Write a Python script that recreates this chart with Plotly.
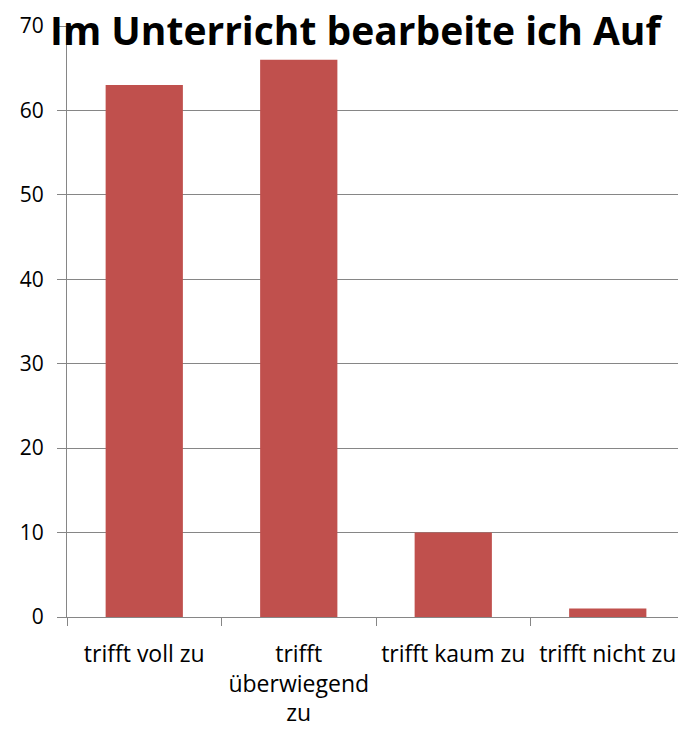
import plotly.graph_objects as go

categories = ["trifft voll zu", "trifft<br>überwiegend<br>zu", "trifft kaum zu", "trifft nicht zu"]
values = [63, 66, 10, 1]
title_text = "Im Unterricht bearbeite ich Auf"
y_ticks = [0, 10, 20, 30, 40, 50, 60, 70]

fig = go.Figure()
fig.add_trace(go.Bar(x=categories, y=values, marker=dict(color="#C0504D", line=dict(width=0)), width=0.5))

axis_color = "#868686"
fig.update_layout(
    width=678, height=726,
    margin=dict(l=59, r=1, t=18, b=117, autoexpand=False),
    plot_bgcolor="white", paper_bgcolor="white",
    showlegend=False,
    font=dict(family="Open Sans, Liberation Sans, sans-serif", size=21, color="black"),
    xaxis=dict(showline=True, linecolor=axis_color, linewidth=1, ticks="outside", tickson="boundaries",
               ticklen=8, tickcolor=axis_color, showgrid=False, tickfont=dict(size=23),
               automargin=False, ticklabelstandoff=16),
    yaxis=dict(range=[0, 70], tickvals=y_ticks, showline=True, linecolor=axis_color, linewidth=1,
               ticks="outside", ticklen=9, tickcolor=axis_color, showgrid=True, gridcolor=axis_color,
               gridwidth=1, tickfont=dict(size=21), zeroline=False, automargin=False,
               ticklabelstandoff=9),
    bargap=0.5,
)
fig.add_annotation(text="<b>" + title_text + "</b>", xref="paper", yref="paper", x=-0.031, y=1.0,
                   xanchor="left", yanchor="middle", showarrow=False, yshift=-3,
                   font=dict(family="Open Sans, sans-serif", size=39, color="black"))
fig.write_html("out.html")
